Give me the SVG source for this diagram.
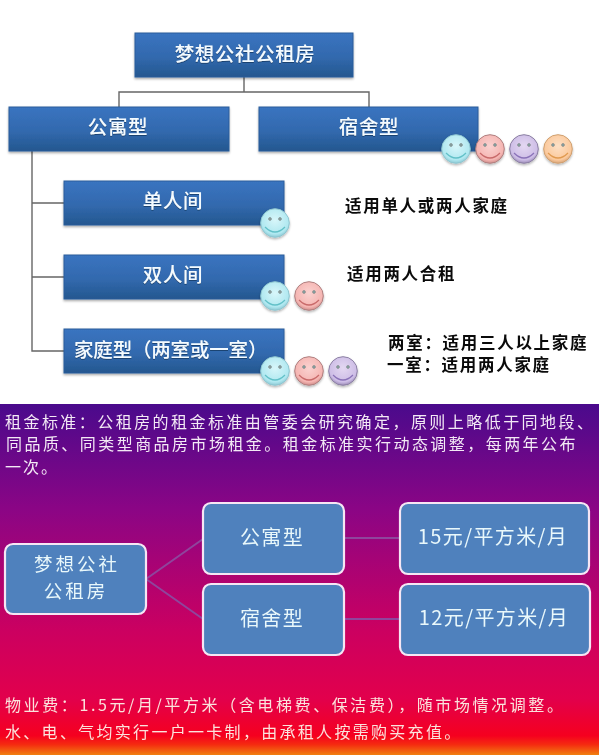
<svg xmlns="http://www.w3.org/2000/svg" width="599" height="756" viewBox="0 0 599 756">
<style>
text{font-family:"Noto Sans CJK SC","Noto Sans",sans-serif;}
.t{fill:#f4fbff;font-size:19.5px;font-weight:500;text-anchor:middle;letter-spacing:.6px;filter:url(#glow);}
.k{fill:#0a0a0a;font-size:16.5px;font-weight:700;letter-spacing:1.7px;}
.w{fill:#f3e9f5;font-size:16px;}
.o{fill:#fbe3dc;font-size:16px;}
.b{fill:url(#bar);stroke:#2a5d9b;stroke-width:1;filter:url(#sh);}
.r{fill:#4f81bd;stroke:#f6e6f4;stroke-width:2.2;}
.rt{fill:#e9f8fb;font-size:20px;text-anchor:middle;letter-spacing:1.4px;}
.ol{stroke:#666;stroke-width:1.4;fill:none;}
.pl{stroke:#8f459c;stroke-width:2;fill:none;}
.e{stroke:#777;stroke-width:.6;}
.sm{fill:none;stroke-width:1.2;}
</style>
<defs>
<linearGradient id="bg" x1="0" y1="0" x2="0" y2="1">
<stop offset="0" stop-color="#4a0a8c"/><stop offset=".3" stop-color="#8b0585"/><stop offset=".65" stop-color="#cc0060"/><stop offset=".84" stop-color="#e2004c"/><stop offset=".945" stop-color="#f5001f"/><stop offset=".97" stop-color="#f52a10"/><stop offset="1" stop-color="#f08010"/>
</linearGradient>
<linearGradient id="bar" x1="0" y1="0" x2="0" y2="1">
<stop offset="0" stop-color="#3a74c0"/><stop offset=".55" stop-color="#3269ae"/><stop offset="1" stop-color="#24578f"/>
</linearGradient>
<radialGradient id="cy" cx=".5" cy=".4" r=".6"><stop offset="0" stop-color="#d8f6fa"/><stop offset=".8" stop-color="#b0e8f0"/><stop offset="1" stop-color="#8cc8d4"/></radialGradient>
<radialGradient id="pk" cx=".5" cy=".4" r=".6"><stop offset="0" stop-color="#fad2d0"/><stop offset=".8" stop-color="#f5b5b2"/><stop offset="1" stop-color="#d08c8a"/></radialGradient>
<radialGradient id="pu" cx=".5" cy=".4" r=".6"><stop offset="0" stop-color="#e4d8f2"/><stop offset=".8" stop-color="#cdbde6"/><stop offset="1" stop-color="#9c8cb8"/></radialGradient>
<radialGradient id="og" cx=".5" cy=".4" r=".6"><stop offset="0" stop-color="#fde0c6"/><stop offset=".8" stop-color="#fbc99c"/><stop offset="1" stop-color="#d8a478"/></radialGradient>
<filter id="sh" x="-5%" y="-10%" width="110%" height="125%"><feDropShadow dx="0" dy="1.5" stdDeviation="1.2" flood-color="#000" flood-opacity=".35"/></filter>
<filter id="sm" x="-20%" y="-20%" width="140%" height="140%"><feDropShadow dx="0" dy="1.5" stdDeviation="1.2" flood-color="#000" flood-opacity=".3"/></filter>
<filter id="glow" x="-5%" y="-20%" width="110%" height="140%"><feDropShadow dx="0" dy="1" stdDeviation=".5" flood-color="#12305a" flood-opacity=".7"/></filter>
<g id="fc"><circle class="e" cx="-5" cy="-4" r="1.4" fill="#8aa"/><circle class="e" cx="5" cy="-4" r="1.4" fill="#8aa"/></g>
<g id="s-cy"><circle r="14.3" fill="url(#cy)" stroke="#8fc6d0"/><use href="#fc"/><path class="sm" stroke="#62c0c8" d="M-10 4Q0 14 10 4"/></g>
<g id="s-pk"><circle r="14.3" fill="url(#pk)" stroke="#b08080"/><use href="#fc"/><path class="sm" stroke="#c86a6a" d="M-10 4Q0 14 10 4"/></g>
<g id="s-pu"><circle r="14.3" fill="url(#pu)" stroke="#8c80a4"/><use href="#fc"/><path class="sm" stroke="#8a72b8" d="M-10 4Q0 14 10 4"/></g>
<g id="s-og"><circle r="14.3" fill="url(#og)" stroke="#d0a070"/><use href="#fc"/><path class="sm" stroke="#e09a50" d="M-10 4Q0 14 10 4"/></g>
</defs>

<rect x="0" y="404" width="599" height="351" fill="url(#bg)"/>

<g id="connectors">
<path class="ol" d="M244 77V92M119 107V92H369V107"/>
<path class="ol" d="M32 151V351H64M32 203H64M32 277H64"/>
<path class="pl" d="M146 579L203 539M146 579L203 619M344 538H400M344 619H400"/>
</g>

<g id="n-root"><rect class="b" x="135" y="33" width="218" height="44"/><text class="t" x="245" y="61">梦想公社公租房</text></g>
<g id="n-apt"><rect class="b" x="9" y="107" width="220" height="44"/><text class="t" x="118" y="134">公寓型</text></g>
<g id="n-dorm"><rect class="b" x="259" y="107" width="219" height="44"/><text class="t" x="369" y="134">宿舍型</text></g>
<g id="n-single"><rect class="b" x="64" y="181" width="220" height="44"/><text class="t" x="173" y="208">单人间</text></g>
<g id="n-double"><rect class="b" x="64" y="255" width="220" height="44"/><text class="t" x="173" y="282">双人间</text></g>
<g id="n-family"><rect class="b" x="64" y="329" width="220" height="44"/><text class="t" x="171" y="357" textLength="194" lengthAdjust="spacing">家庭型（两室或一室）</text></g>

<g id="smileys" filter="url(#sm)">
<use href="#s-cy" x="456" y="149"/><use href="#s-pk" x="490" y="149"/><use href="#s-pu" x="524" y="149"/><use href="#s-og" x="558" y="149"/>
<use href="#s-cy" x="275" y="223"/>
<use href="#s-cy" x="275" y="296"/><use href="#s-pk" x="309" y="296"/>
<use href="#s-cy" x="275" y="371"/><use href="#s-pk" x="309" y="371"/><use href="#s-pu" x="343" y="371"/>
</g>

<text class="k" x="345" y="212">适用单人或两人家庭</text>
<text class="k" x="347" y="280">适用两人合租</text>
<text class="k"><tspan x="388" y="349">两室：适用三人以上家庭</tspan><tspan x="387" y="371">一室：适用两人家庭</tspan></text>

<text class="w"><tspan x="5" y="428" letter-spacing="2.45">租金标准：公租房的租金标准由管委会研究确定，原则上略低于同地段、</tspan><tspan x="6" y="450" letter-spacing="2.45">同品质、同类型商品房市场租金。租金标准实行动态调整，每两年公布</tspan><tspan x="5" y="473" letter-spacing="2">一次。</tspan></text>

<g id="p-root"><rect class="r" x="5" y="544" width="141" height="70" rx="8"/><text class="rt" style="font-size:18.5px;letter-spacing:3px"><tspan x="77" y="571">梦想公社</tspan><tspan x="76" y="598">公租房</tspan></text></g>
<g id="p-apt"><rect class="r" x="203" y="503" width="141" height="71" rx="8"/><text class="rt" x="272" y="545">公寓型</text></g>
<g id="p-dorm"><rect class="r" x="203" y="584" width="141" height="71" rx="8"/><text class="rt" x="272" y="626">宿舍型</text></g>
<g id="p-15"><rect class="r" x="400" y="503" width="189" height="71" rx="8"/><text class="rt" x="493" y="544">15元/平方米/月</text></g>
<g id="p-12"><rect class="r" x="400" y="584" width="190" height="71" rx="8"/><text class="rt" x="494" y="625">12元/平方米/月</text></g>

<text class="o"><tspan x="5" y="711" letter-spacing="2.6">物业费：1.5元/月/平方米（含电梯费、保洁费），随市场情况调整。</tspan><tspan x="5" y="738" letter-spacing="2.3">水、电、气均实行一户一卡制，由承租人按需购买充值。</tspan></text>
</svg>
